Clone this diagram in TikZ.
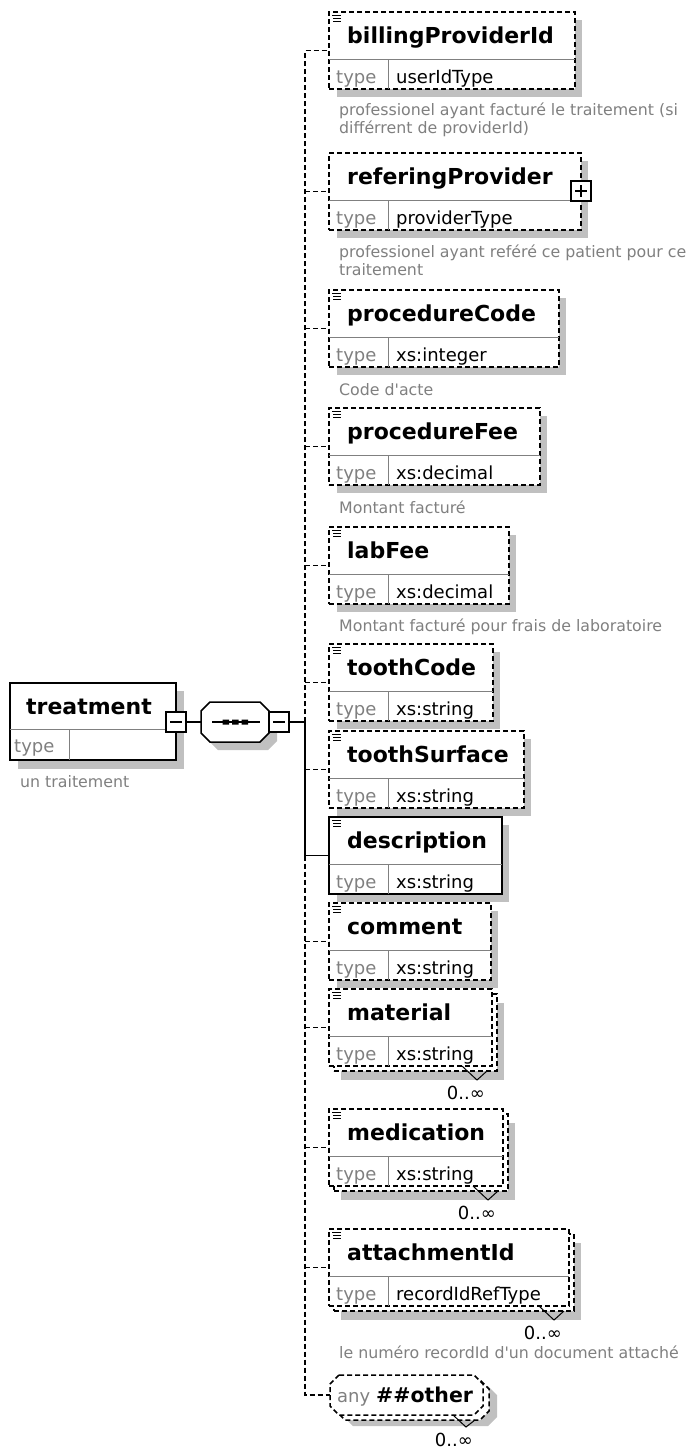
\documentclass[tikz,border=0pt]{standalone}
\usepackage{fontspec}
\setmainfont{DejaVu Sans}[Ligatures=TeXOff]
\definecolor{shadowgrey}{RGB}{192,192,192}
\definecolor{textgrey}{RGB}{128,128,128}
\definecolor{rulegrey}{RGB}{128,128,128}
\newcommand\xtitlefont{\fontsize{22}{26}\selectfont\bfseries}
\newcommand\xtypefont{\fontsize{18}{21}\selectfont}
\newcommand\xdocfont{\fontsize{15.8}{18}\selectfont}
\tikzset{
  elbox/.style={draw, fill=white, rectangle, inner sep=0pt, outer sep=0pt},
  anchorbox/.style={rectangle, inner sep=0pt, outer sep=0pt},
  optline/.style={line width=1.5pt, dash pattern=on 5pt off 3pt},
  reqline/.style={line width=1.8pt},
  divider/.style={draw=rulegrey, line width=1pt},
  elshadow/.style={fill=shadowgrey},
  titletext/.style={anchor=base west, inner sep=0pt, font=\xtitlefont},
  typelbl/.style={anchor=base west, inner sep=0pt, text=textgrey, font=\xtypefont},
  typeval/.style={anchor=base west, inner sep=0pt, font=\xtypefont},
  doctext/.style={anchor=base west, inner sep=0pt, text=textgrey, font=\xdocfont},
  mult/.style={anchor=base east, inner sep=0pt, font=\xtypefont},
  togglebox/.style={draw, fill=white, line width=1.2pt, minimum size=20pt, inner sep=0pt, outer sep=0pt},
  sign/.style={line width=1.3pt},
  notch/.style={line width=1pt},
}
% octagon outline: options, x1, y1, x2, y2, corner cut
\newcommand\xoct[6]{\path[#1] ({#2+#6},#3) -- ({#4-#6},#3) -- (#4,{#3+#6}) -- (#4,{#5-#6}) -- ({#4-#6},#5) -- ({#2+#6},#5) -- (#2,{#5-#6}) -- (#2,{#3+#6}) -- cycle;}
% small "documented" marker in the top left corner of an element
\newcommand\xicon[1]{\draw[line width=0.9pt] (332,{#1+3}) -- (341,{#1+3}) (333,{#1+6}) -- (341,{#1+6}) (333,{#1+9}) -- (341,{#1+9});}
% element box body: name, top, right, title, type, border style
\newcommand\xbody[6]{%
  \node[elbox,#6,minimum width={#3pt-329pt},minimum height=77pt,anchor=north west] (#1) at (329,#2) {};
  \draw[divider] (329,{#2+47}) -- (#3,{#2+47}) (388,{#2+47}) -- (388,{#2+77});
  \node[titletext] (#1-t) at (347,{#2+31}) {#4};
  \node[typelbl] (#1-tl) at (336,{#2+71}) {type};
  \node[typeval] (#1-tv) at (396,{#2+71}) {#5};
}
% single element with its drop shadow
\newcommand\xselem[6]{%
  \fill[elshadow] (337,{#2+8}) rectangle ({#3+7},{#2+85});
  \xbody{#1}{#2}{#3}{#4}{#5}{#6}
}
% repeated element (0..unbounded)
\newcommand\xmelem[5]{%
  \fill[elshadow] (341,{#2+14}) rectangle ({#3+12},{#2+91});
  \node[elbox,optline,minimum width={#3pt-329pt},minimum height=77pt,anchor=north west] (#1-back) at (334,{#2+5}) {};
  \xbody{#1}{#2}{#3}{#4}{#5}{optline}
  \draw[notch] ({#3-30},{#2+77}) -- ({#3-15},{#2+91}) -- ({#3-5},{#2+82});
  \node[mult] (#1-m) at ({#3-7},{#2+110}) {0..∞};
}
\begin{document}
\begin{tikzpicture}[x=1pt,y=-1pt]
\useasboundingbox (0,0) rectangle (698,1452);
\fill[white] (0,0) rectangle (698,1452);

% root element
\fill[elshadow] (18,691) rectangle (184,769);
\node[elbox, reqline, minimum width=166pt, minimum height=77pt, anchor=north west] (tr) at (10,683) {};
\draw[divider] (10,729) -- (176,729) (69,729) -- (69,760);
\node[titletext, anchor=base] (tr-t) at (89,714) {treatment};
\node[typelbl] (tr-tl) at (14,752) {type};
\node[doctext] (tr-d) at (20,787) {un traitement};
\node[togglebox] (trm) at (176,722) {};
\draw[sign] (trm.center) ++(-6,0) -- ++(12,0);

% sequence compositor
\xoct{elshadow}{209}{710}{277}{750}{9}
\xoct{draw, fill=white, line width=1.5pt}{201}{702}{269}{742}{9}
\node[anchorbox, minimum width=68pt, minimum height=40pt, anchor=north west] (seq) at (201,702) {};
\draw[line width=1.5pt] (212,722) -- (260,722);
\fill (222.5,719.5) rectangle (229,724.5) (232,719.5) rectangle (238.5,724.5) (241.5,719.5) rectangle (248,724.5);
\node[togglebox, anchor=west] (seqm) at (269,722) {};
\draw[sign] (seqm.center) ++(-6,0) -- ++(12,0);
\draw[reqline] (trm.east) -- (seq.west);

% child elements
\xselem{bill}{12}{575}{billingProviderId}{userIdType}{optline}
\xicon{12}
\node[doctext] (bill-d1) at (339,115) {professionel ayant facturé le traitement (si};
\node[doctext] (bill-d2) at (339,133) {différrent de providerId)};

\xselem{refer}{153}{581}{referingProvider}{providerType}{optline}
\node[togglebox] (refp) at (581,191) {};
\draw[sign] (refp.center) ++(-6,0) -- ++(12,0) (refp.center) ++(0,-6) -- ++(0,12);
\node[doctext] (refer-d1) at (339,257) {professionel ayant reféré ce patient pour ce};
\node[doctext] (refer-d2) at (339,275) {traitement};

\xselem{pcode}{290}{559}{procedureCode}{xs:integer}{optline}
\xicon{290}
\node[doctext] (pcode-d) at (339,395) {Code d'acte};

\xselem{pfee}{408}{540}{procedureFee}{xs:decimal}{optline}
\xicon{408}
\node[doctext] (pfee-d) at (339,513) {Montant facturé};

\xselem{lab}{527}{509}{labFee}{xs:decimal}{optline}
\xicon{527}
\node[doctext] (lab-d) at (339,631) {Montant facturé pour frais de laboratoire};

\xselem{tcode}{644}{493}{toothCode}{xs:string}{optline}
\xicon{644}

\xselem{tsurf}{731}{524}{toothSurface}{xs:string}{optline}
\xicon{731}

\xselem{descr}{817}{502}{description}{xs:string}{reqline}
\xicon{817}

\xselem{comm}{903}{491}{comment}{xs:string}{optline}
\xicon{903}

\xmelem{mat}{989}{492}{material}{xs:string}
\xicon{989}

\xmelem{medi}{1109}{503}{medication}{xs:string}
\xicon{1109}

\xmelem{att}{1229}{569}{attachmentId}{recordIdRefType}
\xicon{1229}
\node[doctext] (att-d) at (339,1358) {le numéro recordId d'un document attaché};

% wildcard
\xoct{elshadow}{344}{1386}{497}{1426}{9}
\xoct{draw, fill=white, optline}{336}{1380}{489}{1420}{9}
\xoct{draw, fill=white, optline}{330}{1375}{483}{1415}{9}
\node[anchorbox, minimum width=153pt, minimum height=40pt, anchor=north west] (other) at (330,1375) {};
\node[typelbl] (other-any) at (337,1402) {any};
\node[titletext, font={\fontsize{20.5}{24}\selectfont\bfseries}] (other-t) at (376,1402) {\#\#other};
\draw[notch] (453,1415) -- (466,1427) -- (475,1420);
\node[mult] (other-m) at (473,1446) {0..∞};

% connectors
\coordinate (hub) at (305,722);
\draw[reqline] (seqm.east) -- (hub);
\draw[optline] (hub) -- (hub |- bill.west) -- (bill.west);
\foreach \n in {refer,pcode,pfee,lab,tcode,tsurf}
  \draw[optline] (hub |- \n.west) -- (\n.west);
\draw[reqline] (hub) -- (hub |- descr.west) -- (descr.west);
\draw[optline] (hub |- descr.west) -- (hub |- other.west) -- (other.west);
\foreach \n in {comm,mat,medi,att}
  \draw[optline] (hub |- \n.west) -- (\n.west);
\end{tikzpicture}
\end{document}
